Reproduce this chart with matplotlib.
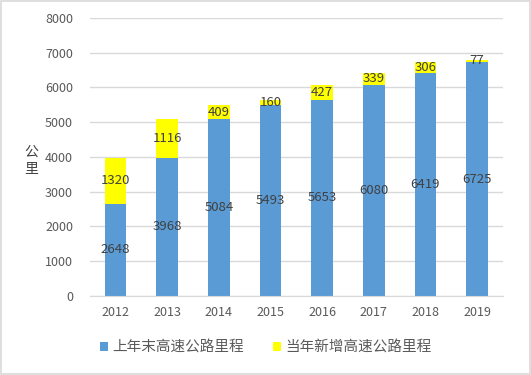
import matplotlib
matplotlib.use("Agg")
import matplotlib.pyplot as plt
from matplotlib.patches import Rectangle
import numpy as np

plt.rcParams['font.family'] = ['Noto Sans CJK SC', 'DejaVu Sans']

years = ['2012', '2013', '2014', '2015', '2016', '2017', '2018', '2019']
prev_total = [2648, 3968, 5084, 5493, 5653, 6080, 6419, 6725]
new_added = [1320, 1116, 409, 160, 427, 339, 306, 77]

blue = '#5B9BD5'
yellow = '#FFFF00'
text_c = '#404040'

fig = plt.figure(figsize=(5.31, 3.75), dpi=100)
fig.patches.append(Rectangle((0.002, 0.002), 0.996, 0.996, transform=fig.transFigure,
                             fill=False, edgecolor='#D9D9D9', linewidth=1.2))
ax = fig.add_axes([0.169, 0.211, 0.778, 0.741])

x = np.arange(len(years))
b1 = ax.bar(x, prev_total, width=0.42, color=blue, label='上年末高速公路里程', zorder=2)
b2 = ax.bar(x, new_added, width=0.42, bottom=prev_total, color=yellow,
            label='当年新增高速公路里程', zorder=2)

for i in range(len(years)):
    ax.text(x[i], prev_total[i] / 2, str(prev_total[i]), ha='center', va='center',
            fontsize=9.5, color=text_c, zorder=3)
    ax.text(x[i], prev_total[i] + new_added[i] / 2, str(new_added[i]), ha='center',
            va='center', fontsize=9.5, color=text_c, zorder=3)

ax.set_xlim(-0.5, len(years) - 0.5)
ax.set_ylim(0, 8000)
ax.set_yticks(range(0, 8001, 1000))
ax.set_xticks(x)
ax.set_xticklabels(years)
ax.yaxis.grid(True, color='#D9D9D9', linewidth=1)
ax.set_axisbelow(True)
for s in ['top', 'right', 'left']:
    ax.spines[s].set_visible(False)
ax.spines['bottom'].set_color('#D9D9D9')
ax.tick_params(axis='both', length=0, labelsize=9, colors='#595959', pad=7)
ax.tick_params(axis='y', pad=12)

fig.text(0.058, 0.572, '公\n里', ha='center', va='center', linespacing=1.25,
         fontsize=10, color=text_c)

fig.legend(handles=[b1, b2], loc='center', bbox_to_anchor=(0.5, 0.072), ncol=2,
           frameon=False, fontsize=10.5, handlelength=0.55, handleheight=0.55,
           handletextpad=0.3, columnspacing=2.0, labelcolor='#595959')

fig.savefig('out.png', dpi=100)
